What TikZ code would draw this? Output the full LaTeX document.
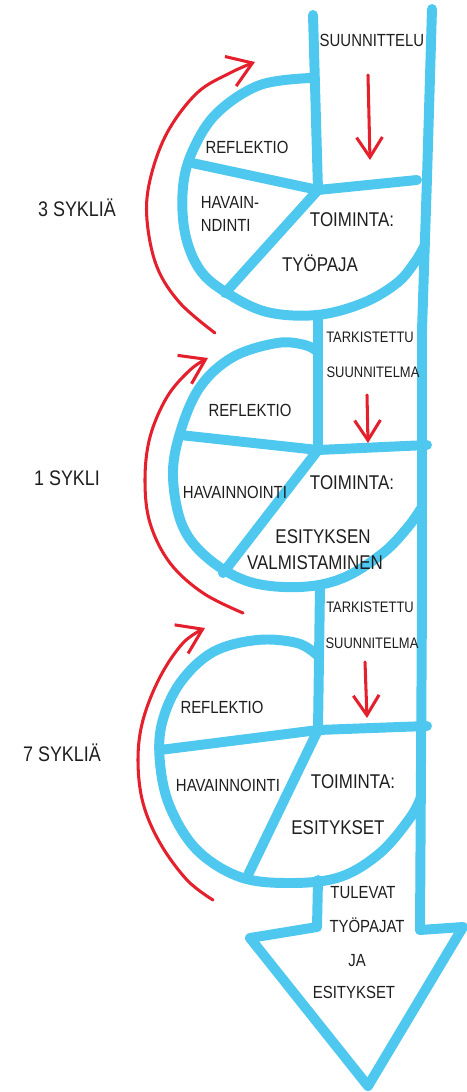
\documentclass[tikz,border=0pt]{standalone}
\usepackage{fontspec}
\setmainfont{Liberation Sans}[FakeStretch=0.85]
\usetikzlibrary{arrows.meta}
\definecolor{marker}{RGB}{78,200,238}
\definecolor{pen}{RGB}{228,32,45}
\definecolor{ink}{RGB}{30,30,30}
\begin{document}
\begin{tikzpicture}[x=0.03cm,y=0.03cm,
  band/.style={draw=marker,line width=8.5pt,line cap=round,line join=round},
  redpen/.style={draw=pen,line width=2.6pt,line cap=round,line join=round},
  downtip/.style={-{Straight Barb[length=17pt,width=22pt,line width=2.6pt]}},
  looptip/.style={-{Straight Barb[length=20pt,width=27pt,line width=2.6pt]}},
  lbl/.style={inner sep=0pt,text=ink,font=\fontsize{15}{17}\selectfont},
  small/.style={lbl,font=\fontsize{13}{15}\selectfont},
  big/.style={lbl,font=\fontsize{17}{19}\selectfont},
  side/.style={lbl,font=\fontsize{18}{20}\selectfont},
]
\useasboundingbox (0,0) rectangle (466,-1092);

% ---- band (left and right edges) ----
\draw[band] (313,-15) -- (318,-190);
\draw[band] (432,-9) -- (427,-178) -- (422,-330) -- (422,-600) -- (420,-930);
\draw[band] (318,-315) -- (318,-450);
\draw[band] (320,-587) -- (318,-730);
\draw[band] (318,-880) -- (317,-927);
% arrow head
\draw[band] (317,-927) -- (250,-938) -- (368,-1086) -- (463,-927) -- (420,-930);

% ---- cycle 1 ----
\draw[band] plot[smooth,tension=0.6] coordinates {(311,-78) (260,-85) (217,-113) (193,-150) (183,-187) (185,-233) (200,-270) (227,-293) (267,-312) (317,-315) (363,-303) (397,-283) (415,-262) (425,-245)};
\draw[band] (192,-163) -- (318,-190) -- (417,-180);
\draw[band] (318,-190) -- (225,-293);

% ---- cycle 2 ----
\draw[band] plot[smooth,tension=0.6] coordinates {(318,-352) (305,-345) (277,-343) (233,-357) (200,-387) (180,-433) (173,-477) (183,-527) (210,-560) (250,-582) (300,-587) (343,-578) (383,-553) (408,-527) (422,-507)};
\draw[band] (180,-435) -- (318,-450) -- (427,-445);
\draw[band] (318,-450) -- (223,-573);

% ---- cycle 3 ----
\draw[band] plot[smooth,tension=0.6] coordinates {(317,-655) (297,-643) (257,-640) (213,-652) (180,-683) (162,-723) (160,-763) (170,-807) (197,-850) (240,-877) (290,-883) (340,-877) (380,-853) (410,-818) (421,-797)};
\draw[band] (160,-750) -- (318,-730) -- (427,-726);
\draw[band] (318,-730) -- (247,-877);

% ---- red arrows ----
\draw[redpen,downtip] (368,-75) -- (370,-160);
\draw[redpen,downtip] (367,-395) -- (368,-443);
\draw[redpen,downtip] (365,-662) -- (367,-718);

\draw[redpen,looptip] plot[smooth,tension=0.6] coordinates {(215,-333) (180,-303) (157,-267) (147,-220) (150,-180) (167,-133) (197,-93) (230,-73) (255,-62)};
\draw[redpen,looptip] plot[smooth,tension=0.6] coordinates {(243,-613) (203,-593) (170,-563) (150,-523) (145,-480) (150,-437) (167,-397) (190,-370) (208,-358)};
\draw[redpen,looptip] plot[smooth,tension=0.6] coordinates {(213,-900) (187,-880) (160,-843) (143,-803) (138,-760) (143,-720) (160,-677) (183,-643) (205,-628)};

% ---- labels ----
\node[lbl] (plan) at (372,-40) {SUUNNITTELU};
\node[lbl] (ref1) at (247,-147) {REFLEKTIO};
\node[lbl,align=left] (hav1) at (230,-214) {HAVAIN-\\[3pt]NDINTI};
\node[big] (toi1) at (352,-220) {TOIMINTA:};
\node[big] (tyo1) at (320,-263) {TYÖPAJA};
\node[side] (cyc1) at (77,-208) {3 SYKLIÄ};

\node[small] (tar2) at (370,-337) {TARKISTETTU};
\node[small] (suu2) at (373,-372) {SUUNNITELMA};
\node[lbl] (ref2) at (250,-410) {REFLEKTIO};
\node[lbl] (hav2) at (235,-492) {HAVAINNOINTI};
\node[big] (toi2) at (352,-483) {TOIMINTA:};
\node[big] (esi2) at (323,-537) {ESITYKSEN};
\node[big] (val2) at (315,-563) {VALMISTAMINEN};
\node[side] (cyc2) at (67,-478) {1 SYKLI};

\node[small] (tar3) at (370,-607) {TARKISTETTU};
\node[small] (suu3) at (372,-643) {SUUNNITELMA};
\node[lbl] (ref3) at (222,-707) {REFLEKTIO};
\node[lbl] (hav3) at (228,-785) {HAVAINNOINTI};
\node[big] (toi3) at (353,-782) {TOIMINTA:};
\node[big] (esi3) at (338,-828) {ESITYKSET};
\node[side] (cyc3) at (62,-753) {7 SYKLIÄ};

\node[lbl] (tul) at (363,-893) {TULEVAT};
\node[lbl] (tyo4) at (367,-925) {TYÖPAJAT};
\node[lbl] (ja) at (357,-961) {JA};
\node[lbl] (esi4) at (354,-992) {ESITYKSET};
\end{tikzpicture}
\end{document}
